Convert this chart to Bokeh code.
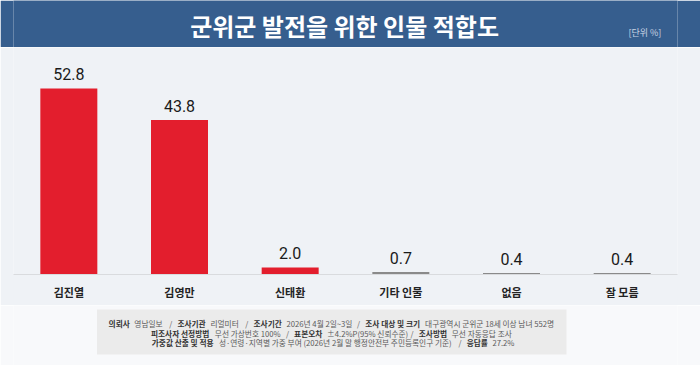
from bokeh.plotting import figure
from bokeh.layouts import column
from bokeh.models import ColumnDataSource, Range1d, FactorRange
from bokeh.core.properties import value
from bokeh.embed import file_html
from bokeh.resources import INLINE

# ---------------- data ----------------
TITLE = "군위군 발전을 위한 인물 적합도"
UNIT = "[단위 %]"
categories = ["김진열", "김영만", "신태환", "기타 인물", "없음", "잘 모름"]
values = [52.8, 43.8, 2.0, 0.7, 0.4, 0.4]
value_labels = ["52.8", "43.8", "2.0", "0.7", "0.4", "0.4"]
bar_colors = ["#e31e2d", "#e31e2d", "#e31e2d", "#8a8a8a", "#8a8a8a", "#8a8a8a"]

note_line1 = [("의뢰사", True), ("영남일보", False), ("/", False), ("조사기관", True), ("리얼미터", False),
              ("/", False), ("조사기간", True), ("2026년 4월 2일~3일", False), ("/", False),
              ("조사 대상 및 크기", True), ("대구광역시 군위군 18세 이상 남녀 552명", False)]
note_line2 = [("피조사자 선정방법", True), ("무선 가상번호 100%", False), ("/", False), ("표본오차", True),
              ("±4.2%P(95% 신뢰수준)", False), ("/", False), ("조사방법", True), ("무선 자동응답 조사", False)]
note_line3 = [("가중값 산출 및 적용", True), ("성·연령·지역별 가중 부여 (2026년 2월 말 행정안전부 주민등록인구 기준)", False),
              ("/", False), ("응답률", True), ("27.2%", False)]

# ---------------- layout constants ----------------
W = 700
KR = "Noto Sans CJK KR"
TITLE_H = 47
CHART_H = 258
FOOT_H = 60

# ---------------- title bar ----------------
t = figure(width=W, height=TITLE_H, x_range=Range1d(0, W), y_range=Range1d(TITLE_H, 0),
           output_backend="svg", toolbar_location=None, min_border=0,
           x_axis_location=None, y_axis_location=None, outline_line_color=None,
           background_fill_color="#365e8e", border_fill_color="#365e8e")
t.grid.visible = False
t.text(x=[349], y=[25], text=[TITLE], text_font=value(KR), text_font_size="24px",
       text_font_style="bold", text_color="#ffffff", text_align="center", text_baseline="middle")
t.text(x=[683], y=[32], text=[UNIT], text_font=value(KR), text_font_size="9px",
       text_color="#c9d4e4", text_align="right", text_baseline="middle")

# ---------------- chart ----------------
src = ColumnDataSource(dict(cat=categories, val=values, lab=value_labels, col=bar_colors))
p = figure(width=W, height=CHART_H, x_range=FactorRange(*categories, range_padding=0),
           y_range=Range1d(0, 64.4), output_backend="svg", toolbar_location=None,
           min_border_left=13, min_border_right=23, min_border_top=0, min_border_bottom=31,
           y_axis_location=None, outline_line_color=None,
           background_fill_color="#eff2f6", border_fill_color="#eff2f6")
p.grid.visible = False
p.vbar(x="cat", top="val", width=0.515, color="col", line_color=None, source=src)
p.text(x="cat", y="val", text="lab", source=src, y_offset=-14, text_font=value("Roboto"),
       text_font_size="16px", text_color="#1a1a1a", text_align="center", text_baseline="middle")
ax = p.xaxis[0]
ax.axis_line_color = "#d9dbde"
ax.axis_line_width = 1
ax.major_tick_line_color = None
ax.minor_tick_line_color = None
ax.major_tick_out = 0
ax.major_tick_in = 0
ax.major_label_standoff = 9
ax.major_label_text_font = KR
ax.major_label_text_font_size = "11px"
ax.major_label_text_font_style = "bold"
ax.major_label_text_color = "#222222"

# ---------------- footnote ----------------
f = figure(width=W, height=FOOT_H, x_range=Range1d(0, W), y_range=Range1d(FOOT_H, 0),
           output_backend="svg", toolbar_location=None, min_border=0,
           x_axis_location=None, y_axis_location=None, outline_line_color=None,
           background_fill_color="#f8f9fb", border_fill_color="#f8f9fb")
f.grid.visible = False
f.quad(left=[88], right=[583], top=[4], bottom=[49], color="#ebebeb", line_color=None)

FS = 7.7


def char_w(ch, bold):
    o = ord(ch)
    if 0xAC00 <= o <= 0xD7A3 or 0x1100 <= o <= 0x11FF or 0x3130 <= o <= 0x318F:
        return 1.0
    table = {" ": 0.224, "/": 0.34, "~": 0.555, ".": 0.27, "%": 0.84, "(": 0.33, ")": 0.33,
             "±": 1.0, "P": 0.6, "·": 0.4}
    if ch.isdigit():
        return 0.555
    return table.get(ch, 0.55)


def text_w(s, bold):
    return sum(char_w(c, bold) for c in s) * FS


GAP = 4.0
SEP_GAP = 6.0
xs, ys, txt, cols, styles = [], [], [], [], []
for line, yy in ((note_line1, 18), (note_line2, 27.5), (note_line3, 37)):
    widths = [text_w(s, b) for s, b in line]
    gaps = []
    for i in range(len(line) - 1):
        g = SEP_GAP if (line[i][0] == "/" or line[i + 1][0] == "/") else GAP
        gaps.append(g)
    total = sum(widths) + sum(gaps)
    x = 336 - total / 2
    for i, (s, b) in enumerate(line):
        xs.append(x)
        ys.append(yy)
        txt.append(s)
        cols.append("#333333" if b else "#5a5a5a")
        styles.append("bold" if b else "normal")
        x += widths[i] + (gaps[i] if i < len(gaps) else 0)

fsrc = ColumnDataSource(dict(x=xs, y=ys, t=txt, c=cols, s=styles))
f.text(x="x", y="y", text="t", text_color="c", text_font_style="s", text_font_size=f"{FS}px",
       source=fsrc, text_font=value(KR), text_align="left", text_baseline="middle")

layout = column(t, p, f, spacing=0)
open("out.html", "w").write(file_html(layout, INLINE))
